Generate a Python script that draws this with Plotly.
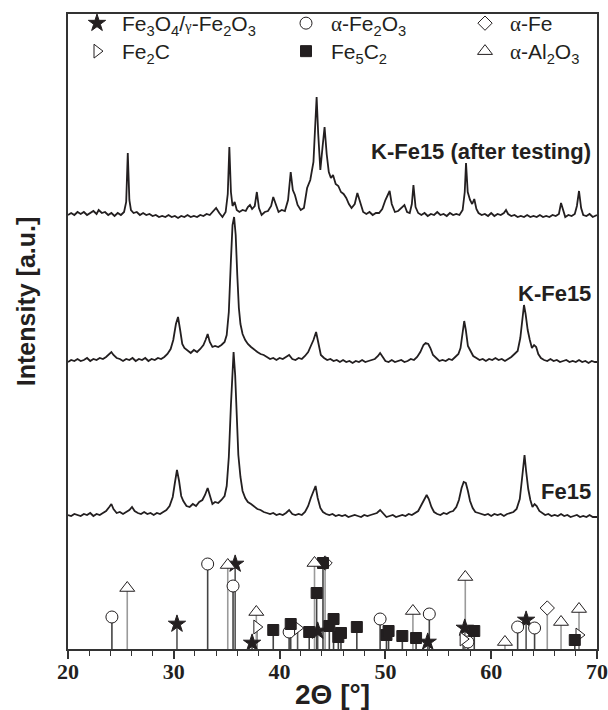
import plotly.graph_objects as go

# ---------------- data (2-theta in degrees, intensity in a.u.) ----------------
after_tt = [20.0,20.3,20.6,20.9,21.2,21.5,21.8,22.1,22.4,22.7,22.9,23.2,23.5,23.8,24.1,24.4,24.7,25.0,25.3,25.5,25.65,25.8,25.95,26.2,26.5,26.8,27.1,27.4,27.7,28.0,28.3,28.6,28.9,29.2,29.5,29.8,30.1,30.4,30.7,31.0,31.3,31.6,31.9,32.2,32.5,32.8,33.1,33.4,33.7,34.0,34.3,34.6,34.9,35.1,35.25,35.4,35.55,35.75,35.95,36.2,36.5,36.8,37.0,37.2,37.4,37.65,37.85,38.05,38.3,38.6,38.9,39.2,39.4,39.6,39.9,40.2,40.5,40.8,41.05,41.25,41.45,41.7,42.0,42.3,42.6,42.9,43.2,43.35,43.5,43.65,43.85,44.05,44.25,44.45,44.65,44.85,45.05,45.3,45.55,45.8,46.05,46.3,46.55,46.8,47.1,47.35,47.6,47.9,48.2,48.5,48.8,49.1,49.4,49.7,50.0,50.4,50.6,50.9,51.2,51.5,51.8,52.05,52.3,52.5,52.65,52.85,53.1,53.4,53.7,54.0,54.3,54.6,54.9,55.2,55.5,55.8,56.1,56.4,56.7,57.0,57.3,57.5,57.62,57.78,58.0,58.2,58.4,58.6,58.8,59.1,59.4,59.7,60.0,60.3,60.6,60.9,61.2,61.4,61.6,61.9,62.2,62.5,62.8,63.1,63.4,63.7,64.0,64.3,64.6,64.9,65.2,65.5,65.8,66.1,66.4,66.6,66.8,67.0,67.3,67.6,67.9,68.1,68.3,68.5,68.7,69.0,69.3,69.6,70.0]
after_int = [-1,1,-1,2,0,2,-1,1,3,0,4,1,2,-1,1,-2,1,-1,2,12,61,14,4,1,2,-1,1,-1,0,-2,-1,-3,-2,-3,-1,-3,-2,-4,-2,-3,-1,-3,-2,-3,-1,-2,0,-1,2,6,1,-3,2,20,67,22,8,12,4,2,4,3,7,9,5,8,22,6,-1,2,3,8,17,11,2,4,3,14,42,24,19,9,4,6,26,34,52,85,117,80,44,66,87,60,42,36,39,30,28,22,20,16,10,6,10,21,12,2,0,2,-1,1,1,5,14,23,10,2,3,6,9,2,1,10,29,7,1,-1,1,-2,0,-1,2,-1,0,-2,1,-1,0,-1,4,22,51,22,14,10,15,5,1,-1,0,-2,1,-2,0,-1,1,4,0,-2,-1,-3,-2,-3,-1,-3,-2,-3,-1,-3,-2,-3,-1,-2,0,11,5,-3,-1,-2,0,8,23,6,-1,-2,0,-3,-1]

kfe_tt = [20.0,20.3,20.6,20.9,21.2,21.5,21.8,22.1,22.4,22.7,23.0,23.3,23.6,23.9,24.1,24.3,24.6,24.9,25.2,25.5,25.8,26.1,26.4,26.7,27.0,27.3,27.6,27.9,28.2,28.5,28.8,29.1,29.4,29.7,29.95,30.2,30.4,30.6,30.8,31.0,31.3,31.6,31.9,32.2,32.5,32.8,33.0,33.2,33.4,33.65,33.9,34.2,34.5,34.8,35.0,35.2,35.4,35.55,35.7,35.85,36.0,36.15,36.3,36.5,36.75,37.0,37.3,37.6,37.9,38.2,38.5,38.8,39.1,39.4,39.7,40.0,40.3,40.6,40.9,41.2,41.5,41.8,42.1,42.4,42.7,42.95,43.2,43.45,43.65,43.9,44.2,44.5,44.8,45.1,45.4,45.7,46.0,46.3,46.6,46.9,47.2,47.5,47.8,48.1,48.4,48.7,49.0,49.3,49.5,49.75,50.0,50.3,50.6,50.9,51.2,51.5,51.8,52.1,52.4,52.7,53.0,53.3,53.6,53.8,54.05,54.25,54.5,54.8,55.1,55.4,55.7,56.0,56.3,56.6,56.9,57.1,57.3,57.45,57.6,57.8,58.0,58.3,58.6,58.9,59.2,59.5,59.8,60.1,60.4,60.7,61.0,61.3,61.6,61.9,62.2,62.5,62.75,62.95,63.1,63.25,63.45,63.65,63.85,64.05,64.25,64.45,64.7,65.0,65.3,65.6,65.9,66.2,66.5,66.8,67.1,67.4,67.7,68.0,68.3,68.6,68.9,69.2,69.5,69.8,70.0]
kfe_int = [-2,0,-1,1,-1,0,2,-1,1,0,2,1,3,6,8,5,2,1,-1,1,0,2,-1,1,0,2,-1,1,0,2,1,3,6,11,20,36,43,30,16,12,9,7,10,8,11,15,20,26,18,13,14,13,15,18,25,48,100,135,143,125,85,52,36,26,20,16,13,10,8,6,5,3,1,2,0,2,1,3,5,1,0,2,1,4,8,14,20,28,18,5,2,0,1,-1,0,-2,0,-2,-1,-3,-1,-2,0,-2,-1,0,1,4,7,3,-1,-2,0,-2,-1,0,-2,-1,1,0,3,8,15,17,16,12,5,2,-1,0,-1,1,0,3,6,12,28,39,30,14,10,4,2,0,1,-1,1,0,2,0,1,-1,1,3,6,9,22,42,55,46,30,20,12,15,13,6,2,0,-1,1,-1,0,-2,-1,0,-2,-1,-2,0,-2,-1,-3,-1,-2,-2]

fe_tt = [20.0,20.3,20.6,20.9,21.2,21.5,21.8,22.1,22.4,22.7,23.0,23.3,23.6,23.9,24.1,24.3,24.6,24.9,25.2,25.5,25.8,26.05,26.3,26.6,26.9,27.2,27.5,27.8,28.1,28.4,28.7,29.0,29.3,29.6,29.9,30.1,30.3,30.5,30.7,30.9,31.2,31.5,31.8,32.1,32.4,32.7,32.95,33.2,33.4,33.65,33.9,34.2,34.5,34.8,35.0,35.2,35.4,35.55,35.65,35.8,35.95,36.1,36.3,36.5,36.75,37.0,37.3,37.6,37.9,38.2,38.5,38.8,39.1,39.4,39.7,40.0,40.3,40.6,40.9,41.2,41.5,41.8,42.1,42.4,42.7,42.95,43.2,43.4,43.6,43.85,44.1,44.4,44.7,45.0,45.3,45.6,45.9,46.2,46.5,46.8,47.1,47.4,47.7,48.0,48.3,48.6,48.9,49.2,49.5,49.8,50.1,50.4,50.7,51.0,51.3,51.6,51.9,52.2,52.5,52.8,53.1,53.4,53.7,53.9,54.1,54.35,54.6,54.9,55.2,55.5,55.8,56.1,56.4,56.7,56.95,57.2,57.4,57.6,57.8,58.0,58.25,58.5,58.8,59.1,59.4,59.7,60.0,60.3,60.6,60.9,61.2,61.5,61.8,62.1,62.4,62.7,62.9,63.05,63.15,63.3,63.5,63.7,63.9,64.1,64.3,64.55,64.8,65.1,65.4,65.7,66.0,66.3,66.6,66.9,67.2,67.5,67.8,68.1,68.4,68.7,69.0,69.3,69.6,70.0]
fe_int = [0,-1,1,0,-1,1,0,2,-1,1,0,2,4,8,11,6,2,3,1,3,5,8,4,2,1,3,1,2,0,2,1,3,5,9,18,32,45,34,19,14,9,8,11,9,13,15,20,27,20,11,13,12,15,19,29,58,110,150,163,140,100,60,38,24,17,13,11,8,6,5,3,2,1,2,0,1,0,2,5,1,0,1,0,3,9,17,25,29,17,7,3,1,0,1,-1,0,-1,0,-2,-1,0,-1,-2,0,-1,0,1,2,5,1,-2,-1,0,-2,-1,0,-1,1,0,2,4,10,17,20,16,8,3,1,0,2,1,3,4,8,15,27,33,32,24,14,7,3,2,1,0,1,-1,1,0,1,-1,1,2,3,6,16,35,55,60,44,26,15,8,11,9,4,2,0,1,-1,0,-1,1,-1,0,-2,-1,0,-2,-1,-2,0,-2,-2]

# reference patterns: positions (2-theta) and relative heights (a.u.)
fe3o4_pos = [30.3, 35.8, 37.4, 43.6, 54.0, 57.5, 63.3]
fe3o4_h   = [25, 85, 6, 18, 7, 21, 29]
afe2o3_pos = [24.15, 33.2, 35.6, 40.9, 49.5, 54.15, 57.8, 62.5, 64.1]
afe2o3_h   = [32, 85, 63, 17, 30, 35, 7, 22, 21]
afe_pos = [44.3, 65.3]
afe_h   = [86, 41]
fe2c_pos = [37.85, 41.7, 57.35, 68.3]
fe2c_h   = [22, 21, 10, 14]
fe5c2_pos = [39.4, 41.05, 42.8, 43.5, 44.1, 44.7, 45.1, 45.55, 45.8, 47.3, 50.1, 50.3, 51.6, 52.9, 58.4, 67.9]
fe5c2_h   = [19, 25, 17, 56, 86, 23, 30, 12, 16, 22, 14, 18, 13, 11, 18, 9]
al2o3_pos = [25.6, 35.1, 37.8, 43.3, 52.6, 57.55, 61.3, 66.6, 68.3]
al2o3_h   = [61, 84, 37, 86, 38, 72, 7, 27, 40]

x_ticks = [20, 30, 40, 50, 60, 70]

# ---------------- style / layout constants ----------------
INK = "#231f20"
OFFSET_AFTER, OFFSET_KFE, OFFSET_FE = 435, 289, 134

fig = go.Figure()

for tt, ii, off in [(after_tt, after_int, OFFSET_AFTER), (kfe_tt, kfe_int, OFFSET_KFE), (fe_tt, fe_int, OFFSET_FE)]:
    fig.add_trace(go.Scatter(x=tt, y=[v + off for v in ii], mode="lines",
                             line=dict(color=INK, width=1.8), showlegend=False, hoverinfo="skip"))

SERIF_A = "<span style=\"font-family:Liberation Serif\">α</span>"
phases = [
    # name, pos, h, symbol, fill, size, stick colour, legend id
    ("Fe<sub>3</sub>O<sub>4</sub>/<span style=\"font-family:Liberation Serif;font-size:15px\">γ</span>-Fe<sub>2</sub>O<sub>3</sub>",
     fe3o4_pos, fe3o4_h, "star", INK, 13, "#555555", "legend"),
    (SERIF_A + "-Fe<sub>2</sub>O<sub>3</sub>", afe2o3_pos, afe2o3_h, "circle", "white", 12, "#444444", "legend2"),
    (SERIF_A + "-Fe", afe_pos, afe_h, "diamond", "white", 11, "#9a9a9a", "legend3"),
    ("Fe<sub>2</sub>C", fe2c_pos, fe2c_h, "triangle-right", "white", 12, "#555555", "legend4"),
    ("Fe<sub>5</sub>C<sub>2</sub>", fe5c2_pos, fe5c2_h, "square", INK, 11, "#444444", "legend5"),
    (SERIF_A + "-Al<sub>2</sub>O<sub>3</sub>", al2o3_pos, al2o3_h, "triangle-up", "white", 13, "#9a9a9a", "legend6"),
]

# sticks
for name, pos, h, sym, fill, size, scol, lg in phases:
    xs, ys = [], []
    for p, v in zip(pos, h):
        xs += [p, p, None]
        ys += [0, v, None]
    fig.add_trace(go.Scatter(x=xs, y=ys, mode="lines", line=dict(color=scol, width=1.6),
                             showlegend=False, hoverinfo="skip"))
# markers
for k, (name, pos, h, sym, fill, size, scol, lg) in enumerate(phases):
    fig.add_trace(go.Scatter(x=pos, y=h, mode="markers", name=name, legend=lg,
                             marker=dict(symbol=sym, size=size, color=fill,
                                         line=dict(color=INK, width=1))))

lab_font = dict(family="Liberation Sans", size=22, color=INK, weight="bold")
fig.add_annotation(x=69.6, y=498, text="K-Fe15 (after testing)", showarrow=False, xanchor="right", font=lab_font)
fig.add_annotation(x=69.6, y=356, text="K-Fe15", showarrow=False, xanchor="right", font=lab_font)
fig.add_annotation(x=69.6, y=158, text="Fe15", showarrow=False, xanchor="right", font=lab_font)
fig.add_annotation(xref="paper", yref="paper", x=-0.079, y=0.5465, xanchor="center", yanchor="middle",
                   text="Intensity [a.u.]", textangle=-90,
                   showarrow=False, font=dict(family="Liberation Sans", size=25, color=INK, weight="bold"))

PW, PH = 529.0, 635.0
def leg(left_px, top_px):
    return dict(orientation="v", xanchor="left", yanchor="top",
                x=(left_px - 68) / PW, y=(649 - top_px) / PH,
                bgcolor="rgba(0,0,0,0)", font=dict(family="Liberation Sans", size=21, color=INK),
                itemwidth=40)

ROW1, ROW2 = 3, 31
C1, C2, C3 = 72, 281, 460
fig.update_layout(
    width=608, height=710,
    margin=dict(l=68, r=11, t=14, b=61, autoexpand=False),
    paper_bgcolor="white", plot_bgcolor="white",
    legend=leg(C1, ROW1), legend2=leg(C2, ROW1), legend3=leg(C3, ROW1),
    legend4=leg(C1, ROW2), legend5=leg(C2, ROW2), legend6=leg(C3, ROW2),
    xaxis=dict(range=[20, 70], tickvals=x_ticks, ticks="outside", ticklen=8, tickwidth=1.5, tickcolor="#333333",
               minor=dict(dtick=2, ticks="outside", ticklen=5, tickwidth=1.3, tickcolor="#333333"),
               showline=True, linewidth=2, linecolor="#333333", mirror=True, showgrid=False, zeroline=False,
               ticklabelstandoff=-6,
               tickfont=dict(family="Liberation Serif", size=22, color=INK, weight="bold"),
               title=dict(text="2Θ [°]", standoff=6,
                          font=dict(family="Liberation Sans", size=28, color=INK, weight="bold"))),
    yaxis=dict(range=[0, 635], showticklabels=False, ticks="", showline=True, linewidth=2, linecolor="#333333",
               mirror=True, showgrid=False, zeroline=False),
)

fig.write_html("out.html")
